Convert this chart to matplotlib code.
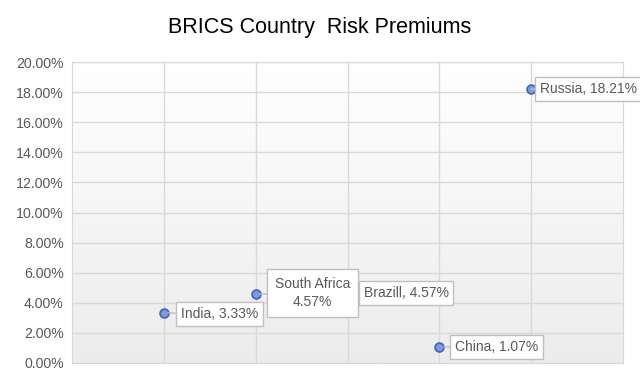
import matplotlib
matplotlib.use("Agg")
import matplotlib.pyplot as plt
import numpy as np
from matplotlib.ticker import FuncFormatter
from matplotlib.colors import LinearSegmentedColormap

countries = ["India", "South Africa", "Brazill", "China", "Russia"]
x_pos = [1, 2, 3, 4, 5]
premiums = [3.33, 4.57, 4.57, 1.07, 18.21]
label_texts = ["India, 3.33%", "South Africa\n4.57%", "Brazill, 4.57%", "China, 1.07%", "Russia, 18.21%"]
y_ticks = [0, 2, 4, 6, 8, 10, 12, 14, 16, 18, 20]

plt.rcParams['font.family'] = ['Liberation Sans', 'DejaVu Sans']

fig = plt.figure(figsize=(6.4, 3.81), dpi=100)
ax = fig.add_axes([72/640, 18/381, 551/640, 301/381])

grad = np.linspace(0, 1, 256).reshape(-1, 1)
cmap = LinearSegmentedColormap.from_list("g", ["#ececec", "#ffffff"])
ax.imshow(grad, extent=[0, 6, 0, 20], origin='lower', aspect='auto', cmap=cmap, zorder=0)

ax.set_xlim(0, 6)
ax.set_ylim(0, 20)
ax.set_yticks(y_ticks)
ax.yaxis.set_major_formatter(FuncFormatter(lambda v, p: f"{v:.2f}%"))
ax.set_xticks([1, 2, 3, 4, 5])
ax.set_xticklabels([])
ax.tick_params(axis='both', length=0, labelsize=10.2, colors='#595959')
ax.tick_params(axis='y', pad=6)
ax.grid(True, color='#d9d9d9', linewidth=1, zorder=1)
ax.set_axisbelow(True)
for s in ax.spines.values():
    s.set_color('#d9d9d9')

ax.scatter(x_pos, premiums, s=40, color='#7f9be0', edgecolors='#4068c0', linewidths=1.3, zorder=3)

# (dx, dy) offsets in pixels of the text anchor, and box padding
offsets = [(17, -1), (57, 1), (16, 1), (16, 0), (9, 0)]
pads = [0.35, 0.55, 0.35, 0.35, 0.35]
zs = [5, 6, 5, 5, 5]
for xi, yi, t, off, pd, z in zip(x_pos, premiums, label_texts, offsets, pads, zs):
    ha = 'center' if '\n' in t else 'left'
    ax.annotate(t, xy=(xi, yi), xytext=off, textcoords='offset pixels',
                ha=ha, va='center', fontsize=10, color='#595959', zorder=z,
                linespacing=1.4,
                bbox=dict(boxstyle=f'square,pad={pd}', fc='white', ec='#bfbfbf', lw=1),
                arrowprops=dict(arrowstyle='-', color='#bfbfbf', lw=1, shrinkA=0, shrinkB=3))

fig.text(0.5, 1 - 28/381, "BRICS Country  Risk Premiums", ha='center', va='center', fontsize=15.5, color='#000000')

fig.savefig("out.png", dpi=100)
